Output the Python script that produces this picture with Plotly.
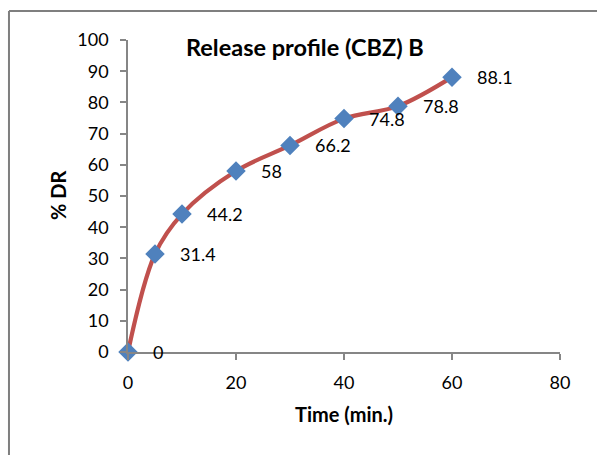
import plotly.graph_objects as go

time_min = [0, 5, 10, 20, 30, 40, 50, 60]
percent_dr = [0, 31.4, 44.2, 58, 66.2, 74.8, 78.8, 88.1]
label_text = ["0", "31.4", "44.2", "58", "66.2", "74.8", "78.8", "88.1"]
x_ticks = [0, 20, 40, 60, 80]
y_ticks = [0, 10, 20, 30, 40, 50, 60, 70, 80, 90, 100]

FONT = "Lato"
GREY = "#868686"

fig = go.Figure()
fig.add_trace(go.Scatter(
    x=time_min, y=percent_dr, mode="lines+markers",
    line=dict(color="#C0504D", width=4.2, shape="spline", smoothing=1),
    marker=dict(symbol="diamond", size=15, color="#4F81BD", line=dict(width=0)),
    showlegend=False, cliponaxis=False,
))

for t, v, s in zip(time_min, percent_dr, label_text):
    fig.add_annotation(x=t, y=v, text=s, showarrow=False, xanchor="left",
                       yanchor="middle", xshift=23,
                       font=dict(family=FONT, size=18, color="black"))

fig.add_annotation(xref="paper", yref="paper", x=0.41, y=0.978,
                   text="<b>Release profile (CBZ) B</b>", showarrow=False,
                   xanchor="center", yanchor="middle",
                   font=dict(family=FONT, size=23.5, color="black"))
fig.add_annotation(xref="paper", yref="paper", x=0.5, y=-0.199,
                   text="<b>Time (min.)</b>", showarrow=False,
                   xanchor="center", yanchor="middle",
                   font=dict(family=FONT, size=20, color="black"))
fig.add_annotation(xref="paper", yref="paper", x=-0.162, y=0.5,
                   text="<b>% DR</b>", showarrow=False, textangle=-90,
                   xanchor="center", yanchor="middle",
                   font=dict(family=FONT, size=20, color="black"))

# chart border (left and top only visible)
fig.add_shape(type="line", xref="paper", yref="paper",
              x0=-0.2755, x1=-0.2755, y0=1.0929, y1=-0.5,
              line=dict(color="#7F7F7F", width=2))
fig.add_shape(type="line", xref="paper", yref="paper",
              x0=-0.2755, x1=1.2, y0=1.0929, y1=1.0929,
              line=dict(color="#7F7F7F", width=2))

axis_common = dict(showgrid=False, zeroline=False, showline=True,
                   linecolor=GREY, linewidth=1.5, ticks="outside",
                   ticklen=6, tickwidth=1.5, tickcolor=GREY,
                   tickfont=dict(family=FONT, size=18, color="black"))
fig.update_xaxes(range=[0, 80], tickvals=x_ticks, ticklabelstandoff=8, **axis_common)
fig.update_yaxes(range=[0, 100], tickvals=y_ticks, ticklabelstandoff=8, **axis_common)

fig.update_layout(
    width=597, height=455,
    margin=dict(l=128, r=37, t=40, b=103),
    paper_bgcolor="white", plot_bgcolor="white",
)
fig.write_html("out.html")
